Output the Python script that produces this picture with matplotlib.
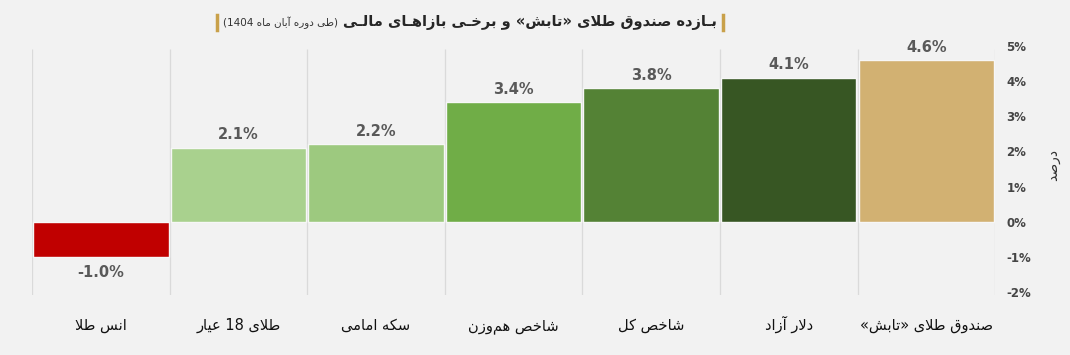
import re

import numpy as np
from matplotlib import pyplot as plt
from matplotlib.lines import Line2D

# data (logical right-to-left order: first item is drawn on the right)
categories = ['صندوق طلای «تابش»', 'دلار آزاد', 'شاخص کل', 'شاخص هم\u200cوزن',
              'سکه امامی', 'طلای 18 عیار', 'انس طلا']
returns = [4.6, 4.1, 3.8, 3.4, 2.2, 2.1, -1.0]
bar_colors = ['#d2b172', '#375623', '#548235', '#70ad47', '#9dc97f', '#a9d18e', '#c00000']
yticks = [-2, -1, 0, 1, 2, 3, 4, 5]

title = 'بـازده صندوق طلای «تابش» و برخـی بازاهـای مالـی'
subtitle = '(طی دوره آبان ماه 1404)'
ylabel = 'درصد'

# --- minimal Persian shaping (matplotlib has no complex text layout) ---
TATWEEL = '\u0640'
FORMS = {
    'ا': ('\uFE8D', '\uFE8E', None, None),
    'آ': ('\uFE81', '\uFE82', None, None),
    'ب': ('\uFE8F', '\uFE90', '\uFE91', '\uFE92'),
    'ت': ('\uFE95', '\uFE96', '\uFE97', '\uFE98'),
    'خ': ('\uFEA5', '\uFEA6', '\uFEA7', '\uFEA8'),
    'د': ('\uFEA9', '\uFEAA', None, None),
    'ر': ('\uFEAD', '\uFEAE', None, None),
    'ز': ('\uFEAF', '\uFEB0', None, None),
    'س': ('\uFEB1', '\uFEB2', '\uFEB3', '\uFEB4'),
    'ش': ('\uFEB5', '\uFEB6', '\uFEB7', '\uFEB8'),
    'ص': ('\uFEB9', '\uFEBA', '\uFEBB', '\uFEBC'),
    'ط': ('\uFEC1', '\uFEC2', '\uFEC3', '\uFEC4'),
    'ع': ('\uFEC9', '\uFECA', '\uFECB', '\uFECC'),
    'ق': ('\uFED5', '\uFED6', '\uFED7', '\uFED8'),
    'ل': ('\uFEDD', '\uFEDE', '\uFEDF', '\uFEE0'),
    'م': ('\uFEE1', '\uFEE2', '\uFEE3', '\uFEE4'),
    'ن': ('\uFEE5', '\uFEE6', '\uFEE7', '\uFEE8'),
    'ه': ('\uFEE9', '\uFEEA', '\uFEEB', '\uFEEC'),
    'و': ('\uFEED', '\uFEEE', None, None),
    'ی': ('\uFBFC', '\uFBFD', '\uFBFE', '\uFBFF'),
    'ک': ('\uFB8E', '\uFB8F', '\uFB90', '\uFB91'),
}
LAM_ALEF = {'ا': ('\uFEFB', '\uFEFC'), 'آ': ('\uFEF5', '\uFEF6')}
MIRROR = str.maketrans('()«»', ')(»«')


def shape(text):
    units = []
    i = 0
    while i < len(text):
        c = text[i]
        if c == 'ل' and i + 1 < len(text) and text[i + 1] in LAM_ALEF:
            units.append(('lig', text[i + 1]))
            i += 2
            continue
        units.append(('ch', c))
        i += 1

    def joins(u):
        return u[0] == 'lig' or u[1] in FORMS or u[1] == TATWEEL

    def joins_next(u):
        return u[0] == 'ch' and (u[1] == TATWEEL or (u[1] in FORMS and FORMS[u[1]][2]))

    out = []
    for k, u in enumerate(units):
        if u[1] == '\u200c':
            continue
        prev = k > 0 and joins_next(units[k - 1]) and joins(u)
        nxt = joins_next(u) and k + 1 < len(units) and joins(units[k + 1])
        if u[0] == 'lig':
            out.append(LAM_ALEF[u[1]][1 if prev else 0])
        elif u[1] in FORMS:
            iso, fin, ini, med = FORMS[u[1]]
            out.append(med if prev and nxt else fin if prev else ini if nxt else iso)
        else:
            out.append(u[1])
    return ''.join(out)


def rtl(text):
    s = shape(text)[::-1].translate(MIRROR)
    return re.sub(r'\d+', lambda m: m.group(0)[::-1], s)


plt.rcParams['font.family'] = ['DejaVu Sans']

bg = '#f2f2f2'
fig = plt.figure(figsize=(10.7, 3.55), dpi=100, facecolor=bg)
ax = fig.add_axes([0.030, 0.168, 0.900, 0.702], facecolor=bg)

n = len(categories)
x = np.arange(n)
ax.bar(x, returns, width=0.985, color=bar_colors, edgecolor='#f7f7f7', linewidth=1, zorder=3)

ax.set_xlim(n - 0.5, -0.5)
ax.set_ylim(-2.1, 5.0)
ax.vlines(np.arange(n + 1) - 0.5, -2.1, 4.92, color='#dadada', linewidth=0.9, zorder=1)

for xi, v in zip(x, returns):
    off = 4 if v >= 0 else -6
    ax.annotate(f'{v:.1f}%', (xi, v), xytext=(0, off), textcoords='offset points',
                ha='center', va='bottom' if v >= 0 else 'top',
                fontsize=10.5, fontweight='bold', color='#595959')

ax.set_xticks(x)
ax.set_xticklabels([rtl(c) for c in categories], fontsize=10.5, color='#111111')
ax.tick_params(axis='x', length=0, pad=25)
for lab in ax.get_xticklabels():
    lab.set_verticalalignment('baseline')

ax.yaxis.tick_right()
ax.set_yticks(yticks)
ax.set_yticklabels([f'{t}%' for t in yticks], fontsize=8.5, fontweight='bold', color='#454545')
ax.tick_params(axis='y', length=0, pad=8)
for s in ax.spines.values():
    s.set_visible(False)

fig.text(0.984, 0.535, rtl(ylabel), rotation=90, ha='center', va='center',
         fontsize=10, color='#333333')

# title: bold main part with a lighter note on its left, framed by gold bars
ty = 0.937
title_t = fig.text(0, ty, rtl(title), fontsize=10.5, fontweight='bold', color='#262626',
                   ha='left', va='center')
sub_t = fig.text(0, ty, rtl(subtitle), fontsize=7.5, color='#333333', ha='left', va='center')
fig.canvas.draw()
r = fig.canvas.get_renderer()
W = fig.bbox.width
tw = title_t.get_window_extent(r).width / W
sw = sub_t.get_window_extent(r).width / W
gap = 5 / W
total = sw + gap + tw
x0 = 470 / W - total / 2
sub_t.set_x(x0)
title_t.set_x(x0 + sw + gap)
for bx in (x0 - 6 / W, x0 + total + 6 / W):
    fig.add_artist(Line2D([bx, bx], [0.915, 0.958], transform=fig.transFigure,
                          color='#c9a14a', linewidth=2.5))

fig.savefig('out.png', dpi=100, facecolor=bg)
